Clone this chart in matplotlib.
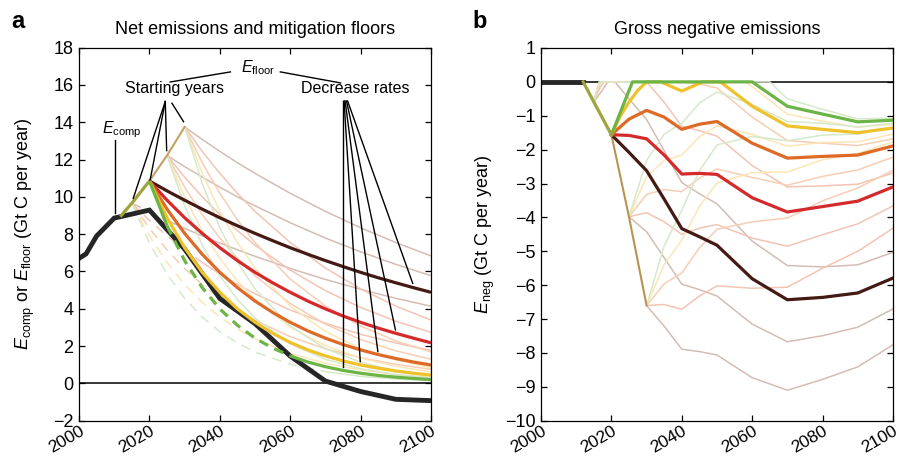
import numpy as np
import matplotlib
matplotlib.use('Agg')
import matplotlib.pyplot as plt

plt.rcParams['font.family'] = ['Liberation Sans', 'DejaVu Sans']
plt.rcParams['mathtext.fontset'] = 'custom'
plt.rcParams['mathtext.rm'] = 'Liberation Sans'
plt.rcParams['mathtext.it'] = 'Liberation Sans:italic'
plt.rcParams['font.size'] = 13

# ---- data ----
comp_years = [2000, 2002, 2005, 2010, 2020, 2030, 2040, 2050, 2060, 2070, 2080, 2090, 2100]
comp_vals = [6.7, 6.94, 7.9, 8.86, 9.29, 7.2, 4.55, 3.2, 1.46, 0.12, -0.44, -0.86, -0.93]

ramp_years = [2012, 2015, 2020, 2025, 2030]
ramp_vals = [9.0, 9.66, 10.85, 12.22, 13.75]
ramp_neg = [0, -0.59, -1.56, -3.98, -6.6]

hist_neg_years = [2000, 2012]
hist_neg = [0, 0]

# decrease rates 1..5 %
rate_colors = ['#441a14', '#d42a2c', '#de6a27', '#efc12b', '#6cb446']
faint_colors = ['#d3bdb5', '#f3c4b4', '#f6ceb4', '#fbe6b6', '#d6e9ca']

# floors (panel a), one list per rate
floor20_years = [2020, 2025, 2030, 2035, 2040, 2045, 2050, 2055, 2060,
                 2065, 2070, 2075, 2080, 2085, 2090, 2095, 2100]
floor20 = [
    [10.85, 10.32, 9.82, 9.34, 8.88, 8.45, 8.04, 7.65, 7.27, 6.92, 6.58, 6.26, 5.95, 5.66, 5.39, 5.13, 4.88],
    [10.85, 9.82, 8.88, 8.04, 7.27, 6.58, 5.95, 5.39, 4.88, 4.41, 3.99, 3.61, 3.27, 2.96, 2.68, 2.42, 2.17],
    [10.85, 9.34, 8.04, 6.92, 5.95, 5.13, 4.41, 3.80, 3.27, 2.81, 2.42, 2.08, 1.79, 1.54, 1.33, 1.14, 0.98],
    [10.85, 8.88, 7.27, 5.95, 4.88, 3.99, 3.27, 2.68, 2.19, 1.79, 1.47, 1.20, 0.98, 0.81, 0.66, 0.54, 0.44],
    [10.85, 8.45, 6.58, 5.13, 3.99, 3.11, 2.42, 1.89, 1.47, 1.14, 0.89, 0.69, 0.54, 0.42, 0.33, 0.26, 0.20],
]
floor15_years = [2015, 2020, 2025, 2030, 2035, 2040, 2045, 2050, 2060, 2070, 2080, 2090, 2100]
floor15 = [
    [9.66, 9.19, 8.74, 8.31, 7.91, 7.52, 7.16, 6.81, 6.16, 5.57, 5.04, 4.56, 4.13],
    [9.66, 8.74, 7.91, 7.16, 6.48, 5.86, 5.30, 4.80, 3.93, 3.22, 2.63, 2.16, 1.76],
    [9.66, 8.31, 7.16, 6.16, 5.30, 4.56, 3.93, 3.38, 2.50, 1.85, 1.37, 1.02, 0.75],
    [9.66, 7.91, 6.48, 5.30, 4.34, 3.55, 2.91, 2.38, 1.60, 1.07, 0.72, 0.48, 0.32],
    [9.66, 7.52, 5.86, 4.56, 3.55, 2.77, 2.16, 1.68, 1.02, 0.62, 0.37, 0.23, 0.14],
]
floor25_years = [2025, 2030, 2035, 2040, 2045, 2050, 2060, 2070, 2080, 2090, 2100]
floor25 = [
    [12.22, 11.62, 11.06, 10.52, 10.00, 9.52, 8.61, 7.79, 7.05, 6.38, 5.77],
    [12.22, 11.06, 10.00, 9.05, 8.19, 7.41, 6.07, 4.97, 4.07, 3.33, 2.73],
    [12.22, 10.52, 9.05, 7.79, 6.71, 5.77, 4.28, 3.17, 2.35, 1.74, 1.29],
    [12.22, 10.00, 8.19, 6.71, 5.49, 4.50, 3.01, 2.02, 1.35, 0.91, 0.61],
    [12.22, 9.52, 7.41, 5.77, 4.50, 3.50, 2.12, 1.29, 0.78, 0.47, 0.29],
]
floor30_years = [2030, 2035, 2040, 2045, 2050, 2060, 2070, 2080, 2090, 2100]
floor30 = [
    [13.75, 13.08, 12.44, 11.83, 11.26, 10.19, 9.22, 8.34, 7.55, 6.83],
    [13.75, 12.44, 11.26, 10.19, 9.22, 7.55, 6.18, 5.06, 4.14, 3.39],
    [13.75, 11.83, 10.19, 8.77, 7.55, 5.59, 4.14, 3.07, 2.27, 1.68],
    [13.75, 11.26, 9.22, 7.55, 6.18, 4.14, 2.78, 1.86, 1.25, 0.84],
    [13.75, 10.71, 8.34, 6.50, 5.06, 3.07, 1.86, 1.13, 0.68, 0.42],
]

# gross negative emissions (panel b)
neg20_years = [
    [2020, 2025, 2030, 2035, 2040, 2045, 2050, 2060, 2070, 2080, 2090, 2100],
    [2020, 2025, 2030, 2035, 2040, 2045, 2050, 2060, 2070, 2080, 2090, 2100],
    [2020, 2025, 2030, 2035, 2040, 2045, 2050, 2060, 2070, 2080, 2090, 2100],
    [2020, 2022.5, 2025, 2027.5, 2030, 2034, 2040, 2046, 2051, 2060, 2070, 2080, 2090, 2100],
    [2020, 2026, 2060, 2070, 2080, 2090, 2100],
]
neg20 = [
    [-1.56, -2.08, -2.62, -3.46, -4.33, -4.57, -4.82, -5.81, -6.43, -6.36, -6.23, -5.79],
    [-1.56, -1.58, -1.68, -2.16, -2.72, -2.7, -2.73, -3.42, -3.84, -3.68, -3.52, -3.1],
    [-1.56, -1.1, -0.84, -1.04, -1.4, -1.25, -1.17, -1.81, -2.25, -2.2, -2.16, -1.89],
    [-1.56, -1.02, -0.6, -0.25, 0, 0, -0.27, 0, 0, -0.72, -1.3, -1.4, -1.5, -1.36],
    [-1.56, 0, 0, -0.72, -0.95, -1.18, -1.13],
]
neg15_years = [
    [2015, 2017, 2019, 2021, 2025, 2030, 2035, 2040, 2045, 2050, 2060, 2070, 2080, 2090, 2100],
    [2015, 2017, 2018, 2030, 2035, 2040, 2045, 2050, 2060, 2070, 2080, 2090, 2100],
    [2015, 2016, 2017, 2039, 2045, 2050, 2060, 2070, 2080, 2090, 2100],
    [2015, 2016, 2017, 2058, 2060, 2070, 2080, 2090, 2100],
    [2015, 2016.5, 2065, 2070, 2080, 2090, 2100],
]
neg15 = [
    [-0.59, -0.31, 0, 0, -0.5, -1.11, -2.03, -2.97, -3.3, -3.6, -4.7, -5.42, -5.46, -5.4, -5.03],
    [-0.59, -0.12, 0, 0, -0.6, -1.31, -1.44, -1.6, -2.47, -3.1, -3.07, -3.02, -2.69],
    [-0.59, -0.25, 0, 0, -0.06, -0.18, -1.04, -1.73, -1.81, -1.88, -1.68],
    [-0.59, -0.16, 0, 0, -0.14, -0.95, -1.16, -1.34, -1.25],
    [-0.59, 0, 0, -0.5, -0.81, -1.09, -1.07],
]
neg25_years = [2025, 2030, 2035, 2040, 2045, 2050, 2060, 2070, 2080, 2090, 2100]
neg25 = [
    [-3.98, -4.42, -5.19, -5.97, -6.13, -6.32, -7.15, -7.67, -7.49, -7.24, -6.7],
    [-3.98, -3.86, -4.13, -4.5, -4.32, -4.21, -4.61, -4.85, -4.51, -4.19, -3.66],
    [-3.98, -3.32, -3.18, -3.24, -2.84, -2.57, -2.82, -3.05, -2.79, -2.6, -2.22],
    [-3.98, -2.8, -2.32, -2.16, -1.62, -1.3, -1.55, -1.9, -1.79, -1.77, -1.54],
    [-3.98, -2.32, -1.54, -1.22, -0.63, -0.3, -0.66, -1.17, -1.22, -1.33, -1.22],
]
neg30_years = [2030, 2035, 2040, 2045, 2050, 2060, 2070, 2080, 2090, 2100]
neg30 = [
    [-6.6, -7.21, -7.89, -7.96, -8.06, -8.73, -9.1, -8.78, -8.41, -7.76],
    [-6.6, -6.57, -6.71, -6.32, -6.02, -6.09, -6.06, -5.5, -5.0, -4.32],
    [-6.6, -5.96, -5.64, -4.9, -4.35, -4.13, -4.02, -3.51, -3.13, -2.61],
    [-6.6, -5.39, -4.67, -3.68, -2.98, -2.68, -2.66, -2.3, -2.11, -1.77],
    [-6.6, -4.84, -3.79, -2.63, -1.86, -1.61, -1.74, -1.57, -1.54, -1.35],
]

THIN = 1.1
BOLD = 2.3
ANN = 11.5


def draw_floor(ax, years, vals, color, lw):
    # dashed where the floor sits below E_comp (not binding)
    years = np.asarray(years, float)
    vals = np.asarray(vals, float)
    below = vals < np.interp(years, comp_years, comp_vals) - 0.02
    dash = below[:-1] | below[1:]
    s = 0
    for i in range(1, len(dash) + 1):
        if i == len(dash) or dash[i] != dash[s]:
            kw = dict(color=color, lw=lw, solid_capstyle='butt')
            if dash[s]:
                kw['dashes'] = (7.0 / lw, 5.0 / lw)
            ax.plot(years[s:i + 1], vals[s:i + 1], **kw)
            s = i


def style_axes(ax, ylim, yticks):
    ax.set_xlim(2000, 2100)
    ax.set_ylim(*ylim)
    ax.set_xticks(range(2000, 2101, 20))
    ax.set_yticks(yticks)
    ax.tick_params(direction='in', top=True, right=True, length=4, width=0.9,
                   pad=4, labelsize=13)
    ax.tick_params(axis='x', pad=2, labelsize=12.5)
    for lab in ax.get_xticklabels():
        lab.set_rotation(30)
        lab.set_ha('right')
        lab.set_rotation_mode('anchor')
    for sp in ax.spines.values():
        sp.set_linewidth(0.9)


fig = plt.figure(figsize=(8.97, 4.58), dpi=100)
ax1 = fig.add_axes([0.0881, 0.0817, 0.3924, 0.8142])
ax2 = fig.add_axes([0.6031, 0.0814, 0.3924, 0.8138])

# ---- panel a ----
ax1.axhline(0, color='black', lw=1.1)
for yrs, curves in [(floor15_years, floor15), (floor25_years, floor25), (floor30_years, floor30)]:
    for c, vals in zip(faint_colors, curves):
        draw_floor(ax1, yrs, vals, c, THIN)
ax1.plot(ramp_years, ramp_vals, color='#c4a265', lw=1.5)
ax1.plot(comp_years, comp_vals, color='#262626', lw=3.5, solid_joinstyle='miter')
for c, vals in zip(rate_colors, floor20):
    draw_floor(ax1, floor20_years, vals, c, BOLD)
ax1.plot(ramp_years[:3], ramp_vals[:3], color='#9ea43e', lw=BOLD)

style_axes(ax1, (-2, 18), range(-2, 19, 2))
ax1.set_ylabel(r'$E_{\mathrm{comp}}$ or $E_{\mathrm{floor}}$ (Gt C per year)')
ax1.yaxis.set_label_coords(-0.118, 0.5)

# annotations
lk = dict(color='black', lw=1.0)
ax1.text(2012.2, 13.6, r'$E_{\mathrm{comp}}$', ha='center', va='center', fontsize=ANN)
ax1.plot([2010.2, 2010.2], [13.05, 9.14], **lk)
ax1.text(2050.8, 16.95, r'$E_{\mathrm{floor}}$', ha='center', va='center', fontsize=ANN)
ax1.plot([2025.9, 2043.0], [16.16, 16.7], **lk)
ax1.plot([2057.2, 2074.3], [16.7, 16.11], **lk)
ax1.text(2027.0, 15.8, 'Starting years', ha='center', va='center', fontsize=ANN)
for x1, y1 in [(2015.4, 9.92), (2020.2, 10.9), (2024.9, 12.48)]:
    ax1.plot([2024.5, x1], [15.11, y1], **lk)
ax1.plot([2026.4, 2029.7], [15.02, 14.03], **lk)
ax1.text(2078.5, 15.8, 'Decrease rates', ha='center', va='center', fontsize=ANN)
for x0, x1, y1 in [(2075.0, 2075.0, 0.89), (2075.3, 2079.9, 1.16), (2075.6, 2084.9, 1.7),
                   (2076.0, 2089.9, 2.86), (2076.3, 2094.8, 5.36)]:
    ax1.plot([x0, x1], [15.14, y1], **lk)

# ---- panel b ----
ax2.axhline(0, color='black', lw=1.1)
for c, yrs, vals in zip(faint_colors, neg15_years, neg15):
    ax2.plot(yrs, vals, color=c, lw=THIN)
for curves, yrs in [(neg25, neg25_years), (neg30, neg30_years)]:
    for c, vals in zip(faint_colors, curves):
        ax2.plot(yrs, vals, color=c, lw=THIN)
ax2.plot(ramp_years, ramp_neg, color='#b8954f', lw=1.5)
ax2.plot(hist_neg_years, hist_neg, color='#262626', lw=3.5)
for c, yrs, vals in zip(rate_colors, neg20_years, neg20):
    ax2.plot(yrs, vals, color=c, lw=BOLD)
ax2.plot(ramp_years[:3], ramp_neg[:3], color='#9ea43e', lw=BOLD)

style_axes(ax2, (-10, 1), range(-10, 2))
ax2.set_ylabel(r'$E_{\mathrm{neg}}$ (Gt C per year)')
ax2.yaxis.set_label_coords(-0.125, 0.5)

# titles and panel letters
fig.text(255 / 897, 1 - 29 / 458, 'Net emissions and mitigation floors', ha='center', va='center')
fig.text(717 / 897, 1 - 29 / 458, 'Gross negative emissions', ha='center', va='center')
fig.text(11 / 897, 1 - 22 / 458, 'a', fontsize=17, weight='bold', va='center')
fig.text(472 / 897, 1 - 22 / 458, 'b', fontsize=17, weight='bold', va='center')

fig.savefig('out.png', dpi=100)
